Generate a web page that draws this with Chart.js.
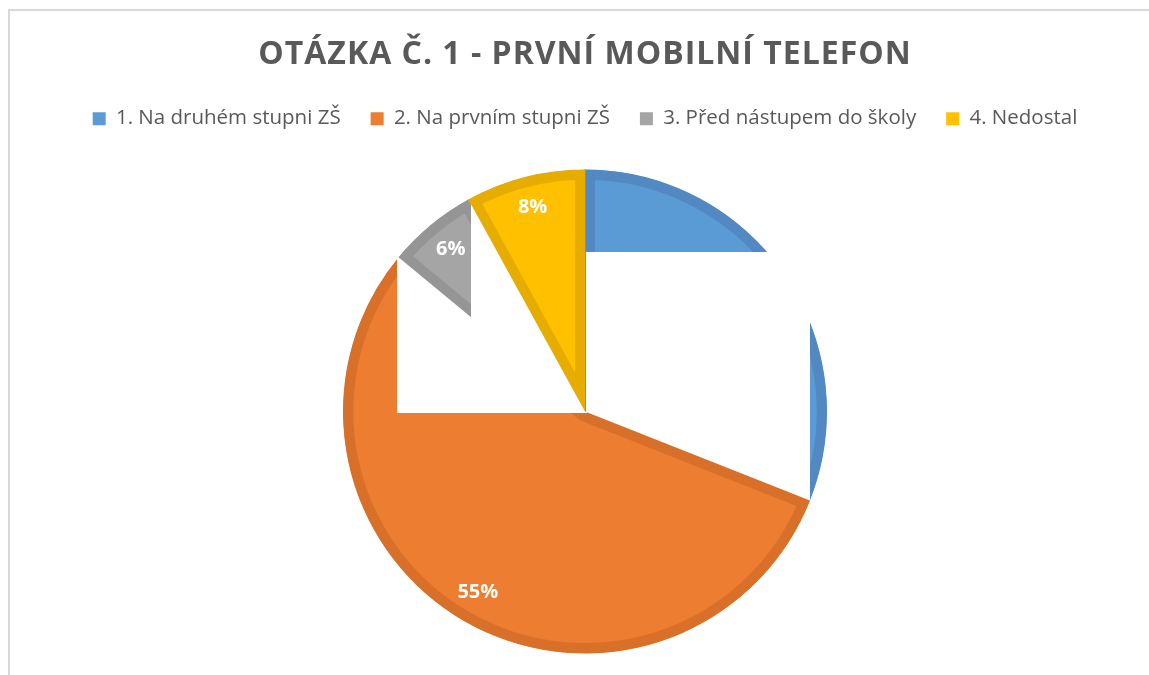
<!DOCTYPE html>
<html>
<head>
<meta charset="utf-8">
<script src="https://cdn.jsdelivr.net/npm/chart.js@4.4.1/dist/chart.umd.min.js"></script>
<style>
  html, body { margin: 0; padding: 0; background: #fff; overflow: hidden; }
  #wrap { width: 1149px; height: 675px; overflow: hidden; }
</style>
</head>
<body>
<div id="wrap"><canvas id="chart" width="1149" height="684"></canvas></div>
<script>
const categories = ['1. Na druhém stupni ZŠ', '2. Na prvním stupni ZŠ', '3. Před nástupem do školy', '4. Nedostal'];
const shares = [31, 55, 6, 8];
const fillColors = ['#5B9BD5', '#ED7D31', '#A5A5A5', '#FFC000'];
const edgeColors = ['#5289C2', '#D87029', '#959595', '#E6AD00'];

// blank patches seen in the original picture:
// slices first..last they cover, rect [x0, y0, x1, y1] in radius units from the centre
const masks = [
    { first: 0, last: 0, rect: [0.005, -0.66, 0.928, 0.5] },
    { first: 1, last: 1, rect: [-0.778, -0.644, -0.472, 0.006] },
    { first: 1, last: 2, rect: [-0.472, -1.05, 0.01, 0.006] }
];

const patchesAndLabels = {
    id: 'patchesAndLabels',
    beforeDraw(chart) {
        const ctx = chart.ctx;
        // chart frame, only top and left edges show
        ctx.save();
        ctx.fillStyle = '#d9d9d9';
        ctx.fillRect(8, 9, chart.width, 2);
        ctx.fillRect(8, 9, 2, chart.height);
        ctx.restore();

        // title is a bit spaced out in the original
        const tb = chart.titleBlock;
        if (tb && !tb._spaced) {
            const orig = tb.draw;
            tb.draw = function() {
                ctx.save();
                ctx.letterSpacing = '1px';
                orig.apply(this, arguments);
                ctx.restore();
            };
            tb._spaced = true;
        }
    },
    afterDatasetsDraw(chart) {
        const ctx = chart.ctx;
        const arcs = chart.getDatasetMeta(0).data;
        const props = arcs.map(a => a.getProps(['x', 'y', 'startAngle', 'endAngle', 'outerRadius'], true));

        masks.forEach(m => {
            const a = props[m.first], b = props[m.last];
            const r = a.outerRadius;
            ctx.save();
            ctx.beginPath();
            ctx.moveTo(a.x, a.y);
            ctx.arc(a.x, a.y, r + 2, a.startAngle, b.endAngle);
            ctx.closePath();
            ctx.clip();
            ctx.fillStyle = '#fff';
            const x0 = Math.round(a.x + m.rect[0] * r), x1 = Math.round(a.x + m.rect[2] * r);
            const y0 = Math.round(a.y + m.rect[1] * r), y1 = Math.round(a.y + m.rect[3] * r);
            ctx.fillRect(x0, y0, x1 - x0, y1 - y0);
            ctx.restore();
        });

        // percentage labels
        ctx.save();
        ctx.font = 'bold 20px "Open Sans"';
        ctx.fillStyle = '#fff';
        ctx.textAlign = 'center';
        ctx.textBaseline = 'middle';
        props.forEach((p, i) => {
            const mid = (p.startAngle + p.endAngle) / 2;
            const d = p.outerRadius * 0.87;
            ctx.fillText(shares[i] + '%', p.x + Math.cos(mid) * d, p.y + Math.sin(mid) * d);
        });
        ctx.restore();
    }
};

const pieOverrides = Chart.overrides.pie || Chart.overrides.doughnut;

new Chart(document.getElementById('chart'), {
    type: 'pie',
    data: {
        labels: categories,
        datasets: [{
            data: shares,
            backgroundColor: fillColors,
            borderColor: edgeColors,
            borderWidth: 10,
            borderAlign: 'inner',
            borderJoinStyle: 'miter',
            hoverOffset: 0,
            radius: 242
        }]
    },
    options: {
        responsive: false,
        animation: false,
        devicePixelRatio: 1,
        layout: { padding: { left: 21 } },
        plugins: {
            title: {
                display: true,
                text: 'OTÁZKA Č. 1 - PRVNÍ MOBILNÍ TELEFON',
                color: '#595959',
                font: { family: 'Open Sans', size: 32, weight: 'bold' },
                padding: { top: 36, bottom: 4 }
            },
            legend: {
                position: 'top',
                labels: {
                    color: '#595959',
                    font: { family: 'Open Sans', size: 20.5 },
                    boxWidth: 13,
                    boxHeight: 13,
                    padding: 30,
                    generateLabels(chart) {
                        const items = pieOverrides.plugins.legend.labels.generateLabels(chart);
                        return items.map((it, i) => Object.assign(it, {
                            fillStyle: fillColors[i],
                            strokeStyle: fillColors[i],
                            lineWidth: 0
                        }));
                    }
                }
            },
            tooltip: { enabled: false }
        }
    },
    plugins: [patchesAndLabels]
});
</script>
</body>
</html>
